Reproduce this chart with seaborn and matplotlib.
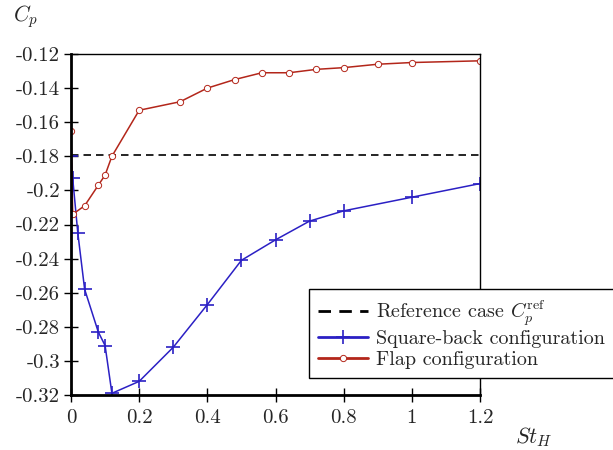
import matplotlib
matplotlib.use("Agg")
import matplotlib.pyplot as plt
import seaborn as sns
import pandas as pd

# Square-back configuration
sq_st = [0, 0.005, 0.02, 0.04, 0.08, 0.1, 0.12, 0.2, 0.3, 0.4, 0.5, 0.6, 0.7, 0.8, 1.0, 1.2]
sq_cp = [-0.18, -0.193, -0.225, -0.258, -0.283, -0.291, -0.319, -0.312, -0.292,
         -0.267, -0.241, -0.229, -0.218, -0.212, -0.204, -0.196]

# Flap configuration
fl_st = [0, 0.005, 0.04, 0.08, 0.1, 0.12, 0.2, 0.32, 0.4, 0.48, 0.56, 0.64, 0.72,
         0.8, 0.9, 1.0, 1.2]
fl_cp = [-0.165, -0.214, -0.209, -0.197, -0.191, -0.18, -0.153, -0.148, -0.14,
         -0.135, -0.131, -0.131, -0.129, -0.128, -0.126, -0.125, -0.124]

ref_cp = -0.179
x_ticks = [0, 0.2, 0.4, 0.6, 0.8, 1.0, 1.2]
y_ticks = [-0.32, -0.30, -0.28, -0.26, -0.24, -0.22, -0.20, -0.18, -0.16, -0.14, -0.12]

sns.set_style("ticks")
plt.rcParams.update({"font.family": "cmr10", "mathtext.fontset": "cm",
                     "axes.unicode_minus": False, "font.size": 14.5})

BLUE = "#2b20c4"
RED = "#b3261a"

fig = plt.figure(figsize=(6.13, 4.5), dpi=100)
ax = fig.add_axes([71 / 613, 1 - 395 / 450, 409 / 613, 341 / 450])

ax.plot([0, 1.2], [ref_cp, ref_cp], color="black", ls=(0, (4.5, 3)), lw=1.2,
        label=r"Reference case $C_p^{\mathrm{ref}}$")
sq = pd.DataFrame({"St": sq_st, "Cp": sq_cp})
fl = pd.DataFrame({"St": fl_st, "Cp": fl_cp})
sns.lineplot(data=sq, x="St", y="Cp", sort=False, color=BLUE, lw=1.1,
             marker="+", markersize=10, mew=1.2, mec=BLUE,
             label="Square-back configuration", ax=ax)
sns.lineplot(data=fl, x="St", y="Cp", sort=False, color=RED, lw=1.1,
             marker="o", markersize=4.5, mfc="white", mec=RED, mew=0.7,
             label="Flap configuration", ax=ax)

ax.set_xlim(0, 1.2)
ax.set_ylim(-0.32, -0.12)
ax.set_xticks(x_ticks)
ax.set_xticklabels([f"{v:g}" for v in x_ticks])
ax.set_yticks(y_ticks)
ax.set_yticklabels([f"{v:g}" for v in y_ticks])
ax.set_xlabel("")
ax.set_ylabel("")
ax.tick_params(direction="inout", length=10, width=1.0, labelsize=15, color="black")
ax.tick_params(axis="x", pad=5)
ax.tick_params(axis="y", pad=3)

for side in ["left", "bottom"]:
    ax.spines[side].set_linewidth(2.0)
for side in ["top", "right"]:
    ax.spines[side].set_linewidth(1.0)
for s in ax.spines.values():
    s.set_color("black")
    s.set_zorder(5)

fig.text(13 / 613, 1 - 17 / 450, r"$C_p$", fontsize=15.5, ha="left", va="center")
fig.text(515 / 613, 1 - 437 / 450, r"$St_H$", fontsize=16, ha="left", va="center")

ax.get_legend().remove()
handles, labels = ax.get_legend_handles_labels()
leg = fig.legend(handles, labels, loc="upper left",
                 bbox_to_anchor=(309 / 613, 1 - 289 / 450), frameon=True,
                 fancybox=False, edgecolor="black", framealpha=1, fontsize=14.5,
                 handlelength=2.5, borderpad=0.45, labelspacing=0.12,
                 handletextpad=0.4, borderaxespad=0)
leg.get_frame().set_linewidth(1.0)
for h in leg.legend_handles:
    h.set_linewidth(2.0)

fig.savefig("out.png", dpi=100)
